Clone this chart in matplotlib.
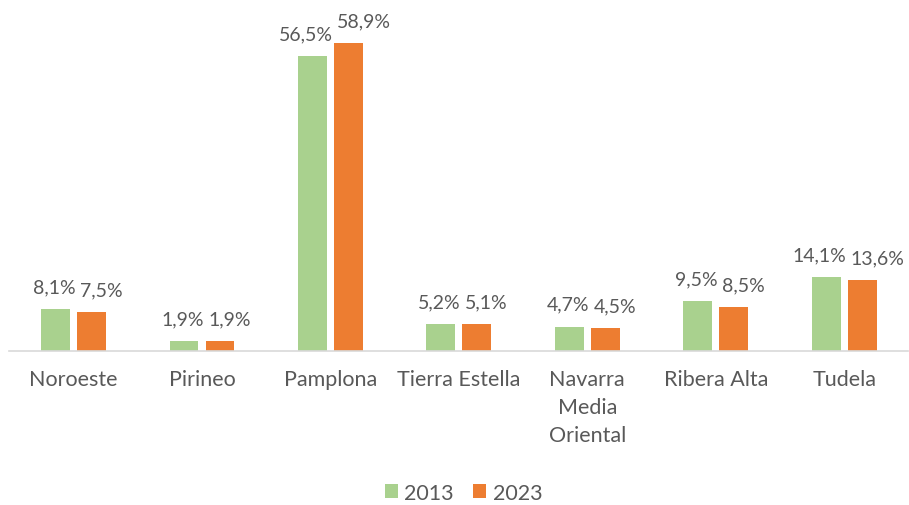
import matplotlib
matplotlib.use("Agg")
import matplotlib.pyplot as plt
import numpy as np

categories = ["Noroeste", "Pirineo", "Pamplona", "Tierra Estella",
              "Navarra\nMedia\nOriental", "Ribera Alta", "Tudela"]
series_names = ["2013", "2023"]
values_2013 = [8.1, 1.9, 56.5, 5.2, 4.7, 9.5, 14.1]
values_2023 = [7.5, 1.9, 58.9, 5.1, 4.5, 8.5, 13.6]
colors = ["#A9D18E", "#ED7D31"]

plt.rcParams['font.family'] = ['Lato', 'DejaVu Sans']
text_color = "#595959"
fs = 15.5

fig = plt.figure(figsize=(9.09, 5.06), dpi=100)
ax = fig.add_axes([0.0103, 0.304, 0.989, 0.672])

x = np.arange(len(categories))
w = 0.225
gap = 0.056
for vals, sign, col, name in [(values_2013, -1, colors[0], series_names[0]),
                              (values_2023, 1, colors[1], series_names[1])]:
    off = sign * (w + gap) / 2
    bars = ax.bar(x + off, vals, width=w, color=col, label=name)
    for xi, v in zip(x, vals):
        ax.annotate(f"{v:.1f}%".replace(".", ","), (xi, v),
                    xytext=(1.5 if sign < 0 else 4.5, 16), textcoords="offset points",
                    ha="right" if sign < 0 else "left", va="center",
                    fontsize=14, color=text_color)

ax.set_xlim(-0.5, len(categories) - 0.5)
ax.set_ylim(0, 65)
ax.set_yticks([])
ax.set_xticks(x)
ax.set_xticklabels(categories, fontsize=fs, color=text_color, va="top", linespacing=1.5)
ax.tick_params(axis="x", length=0, pad=13)
for s in ["top", "right", "left"]:
    ax.spines[s].set_visible(False)
ax.spines["bottom"].set_color("#D9D9D9")
ax.spines["bottom"].set_linewidth(1.2)

leg = fig.legend(loc="center", bbox_to_anchor=(0.51, 0.024), ncol=2, frameon=False,
                 fontsize=fs, handlelength=0.6, handleheight=0.6, columnspacing=0.9,
                 handletextpad=0.3)
for t in leg.get_texts():
    t.set_color(text_color)

fig.savefig("out.png", dpi=100)
